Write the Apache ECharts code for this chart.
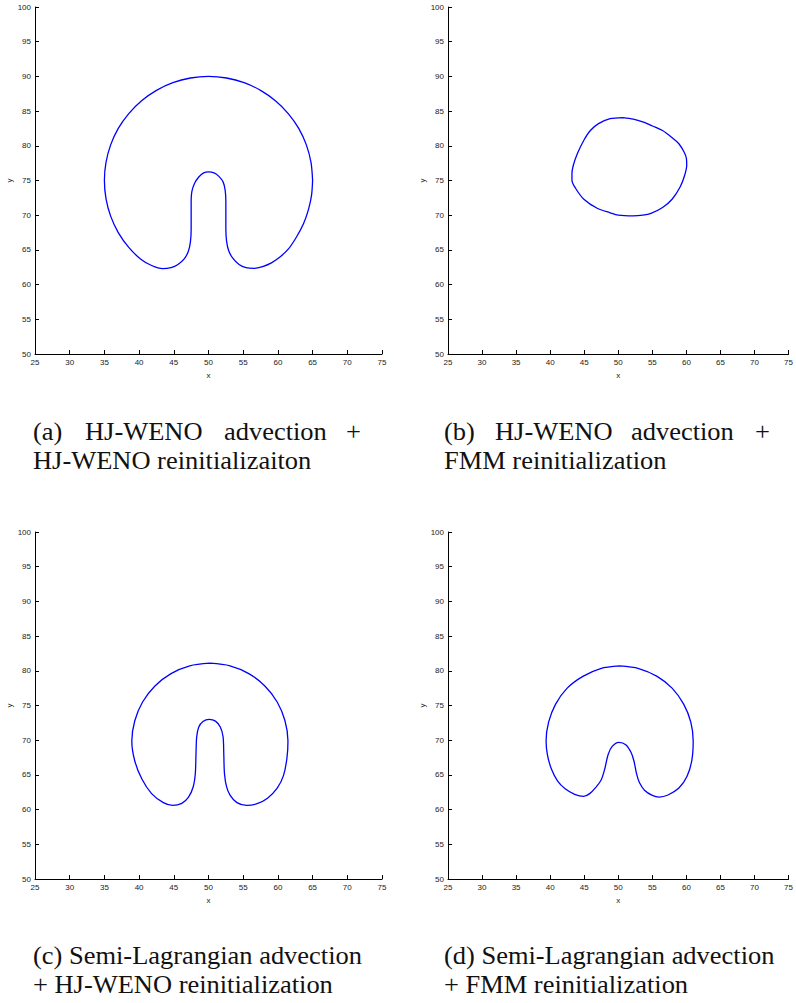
<!DOCTYPE html>
<html>
<head>
<meta charset="utf-8">
<style>
  html, body { margin: 0; padding: 0; background: #ffffff; }
  #chart { width: 796px; height: 1003px; }
</style>
<script src="https://cdn.jsdelivr.net/npm/echarts@6/dist/echarts.min.js"></script>
</head>
<body>
<div id="chart"></div>
<script>
// ---- Data (x, y pairs of each contour) ----
var curveA = [[65,75],[64.77,77.6],[64.1,80.13],[63.0,82.5],[61.49,84.64],[59.64,86.49],[57.5,87.99],[55.13,89.1],[52.6,89.77],[50,90],[47.4,89.77],[44.87,89.1],[42.5,87.99],[40.36,86.49],[38.51,84.64],[37.0,82.5],[35.9,80.13],[35.23,77.6],[35,75],[35.23,72.4],[35.9,69.87],[37.0,67.5],[38.51,65.36],[40.2,63.7],[41.8,62.75],[43.4,62.3],[44.6,62.45],[45.6,62.9],[46.5,63.7],[47.1,64.8],[47.4,66.2],[47.5,68],[47.5,70],[47.5,72],[47.6,73.4],[48.0,74.6],[48.6,75.5],[49.3,76.1],[50,76.25],[50.8,76.1],[51.5,75.6],[52.1,74.8],[52.4,73.6],[52.5,72],[52.5,70],[52.5,68],[52.6,66.3],[52.9,64.9],[53.5,63.8],[54.4,62.9],[55.4,62.45],[56.6,62.35],[57.8,62.6],[59.0,63.1],[60.2,63.9],[61.49,65.1],[62.7,66.9],[63.7,68.8],[64.4,70.8],[64.85,72.9],[65,75]];

var curveB = [[50.7,84.07],[48.8,83.9],[47.1,83.2],[45.9,82.2],[44.95,80.8],[44.0,78.9],[43.4,77.2],[43.2,76.0],[43.2,75.05],[43.75,73.85],[44.95,72.3],[46.9,71.0],[48.8,70.35],[50.0,70.0],[52.2,69.9],[53.6,70.0],[54.8,70.25],[56.5,71.1],[57.9,72.3],[59.1,74.1],[59.76,75.8],[60.05,77.2],[60.0,78.2],[59.66,79.1],[58.9,80.3],[58.0,81.1],[56.5,82.2],[55.05,82.85],[53.6,83.45],[52.2,83.85],[50.7,84.07]];

var curveC = [[50.2,81.1],[53.1,80.72],[55.8,79.6],[58.12,77.82],[59.9,75.5],[61.02,72.8],[61.45,69.9],[61.3,67.4],[60.8,64.9],[59.9,63.1],[58.5,61.65],[57.0,60.85],[55.5,60.6],[54.1,61.0],[53.1,62.1],[52.6,63.3],[52.3,65.2],[52.2,68.1],[52.1,70.5],[51.7,71.9],[51.0,72.75],[50.1,73.0],[49.2,72.7],[48.6,71.9],[48.3,70.5],[48.2,68.1],[48.1,65.2],[47.8,63.3],[47.1,61.75],[46.15,60.9],[44.86,60.6],[43.5,61.0],[41.8,62.3],[40.4,64.4],[39.38,67.0],[38.95,69.9],[39.38,72.8],[40.5,75.5],[42.28,77.82],[44.6,79.6],[47.3,80.72],[50.2,81.1]];

var curveD = [[50.2,80.7],[53.0,80.33],[55.7,79.2],[57.9,77.5],[59.6,75.2],[60.65,72.6],[61.0,69.9],[60.8,67.1],[60.1,64.8],[58.9,63.1],[57.3,62.1],[56.0,61.8],[55.0,62.05],[53.85,62.8],[53.1,63.9],[52.7,65.1],[52.3,67.0],[51.9,68.2],[51.1,69.35],[50.1,69.7],[49.1,69.1],[48.5,67.9],[48.0,65.8],[47.5,64.3],[46.7,63.2],[45.8,62.3],[44.9,61.9],[43.6,62.2],[42.2,63.0],[41.1,64.1],[40.2,65.8],[39.6,67.9],[39.4,69.9],[39.77,72.6],[40.8,75.2],[42.5,77.5],[44.8,79.2],[47.4,80.33],[50.2,80.7]];

var xRange = [25, 75];
var yRange = [50, 100];
var tickStep = 5;
var xName = 'x';
var yName = 'y';

var captionA1 = ['(a)', 'HJ-WENO', 'advection', '+'];
var captionA2 = 'HJ-WENO reinitializaiton';
var captionB1 = ['(b)', 'HJ-WENO', 'advection', '+'];
var captionB2 = 'FMM reinitialization';
var captionC1 = '(c) Semi-Lagrangian advection';
var captionC2 = '+ HJ-WENO reinitialization';
var captionD1 = '(d) Semi-Lagrangian advection';
var captionD2 = '+ FMM reinitialization';

// ---- Layout ----
var curves = [curveA, curveB, curveC, curveD];
var grids = [
  { left: 35, top: 7, width: 347, height: 347 },
  { left: 448, top: 7, width: 347, height: 347 },
  { left: 35, top: 532, width: 347, height: 347 },
  { left: 448, top: 532, width: 347, height: 347 }
];

var tickFont = { fontFamily: 'Liberation Sans, Arial, sans-serif', fontSize: 8, color: '#222' };
var axisLineStyle = { color: '#000', width: 1 };

var xAxes = [], yAxes = [], series = [];
for (var i = 0; i < 4; i++) {
  xAxes.push({
    gridIndex: i, type: 'value', min: xRange[0], max: xRange[1], interval: tickStep,
    name: xName, nameLocation: 'middle', nameGap: 17, nameMoveOverlap: false,
    nameTextStyle: tickFont,
    axisLine: { show: true, onZero: false, lineStyle: axisLineStyle },
    axisTick: { show: true, inside: true, length: 4, lineStyle: axisLineStyle },
    axisLabel: Object.assign({ margin: 4, showMinLabel: true, showMaxLabel: true }, tickFont),
    splitLine: { show: false }
  });
  yAxes.push({
    gridIndex: i, type: 'value', min: yRange[0], max: yRange[1], interval: tickStep,
    name: yName, nameLocation: 'middle', nameGap: 22, nameMoveOverlap: false,
    nameTextStyle: tickFont,
    axisLine: { show: true, onZero: false, lineStyle: axisLineStyle },
    axisTick: { show: true, inside: true, length: 4, lineStyle: axisLineStyle },
    axisLabel: Object.assign({ margin: 4, showMinLabel: true, showMaxLabel: true }, tickFont),
    splitLine: { show: false }
  });
  series.push({
    type: 'line', xAxisIndex: i, yAxisIndex: i,
    data: curves[i], showSymbol: false, symbol: 'none',
    smooth: 0.3, clip: false, animation: false,
    lineStyle: { color: '#0000ff', width: 1.3 }
  });
}

function txt(x, y, s, align) {
  return { type: 'text', x: x, y: y, scaleX: 1.08, scaleY: 1, silent: true,
    style: { text: s, fontFamily: 'Liberation Serif', fontSize: 24.5, fill: '#111',
             align: align || 'left', verticalAlign: 'middle' } };
}
var graphics = [];
function justified(words, x0, x1, x2, x3end, y) {
  graphics.push(txt(x0, y, words[0]));
  graphics.push(txt(x1, y, words[1]));
  graphics.push(txt(x2, y, words[2]));
  graphics.push(txt(x3end, y, words[3], 'right'));
}
justified(captionA1, 33, 85, 224, 361, 432);
graphics.push(txt(33, 461, captionA2));
justified(captionB1, 444, 495, 631, 770, 432);
graphics.push(txt(444, 461, captionB2));
graphics.push(txt(33, 956, captionC1));
graphics.push(txt(33, 985, captionC2));
graphics.push(txt(444, 956, captionD1));
graphics.push(txt(444, 985, captionD2));

var chart = echarts.init(document.getElementById('chart'), null, { renderer: 'svg', width: 796, height: 1003 });
chart.setOption({
  animation: false,
  backgroundColor: '#ffffff',
  grid: grids,
  xAxis: xAxes,
  yAxis: yAxes,
  series: series,
  graphic: graphics
});
</script>
</body>
</html>
